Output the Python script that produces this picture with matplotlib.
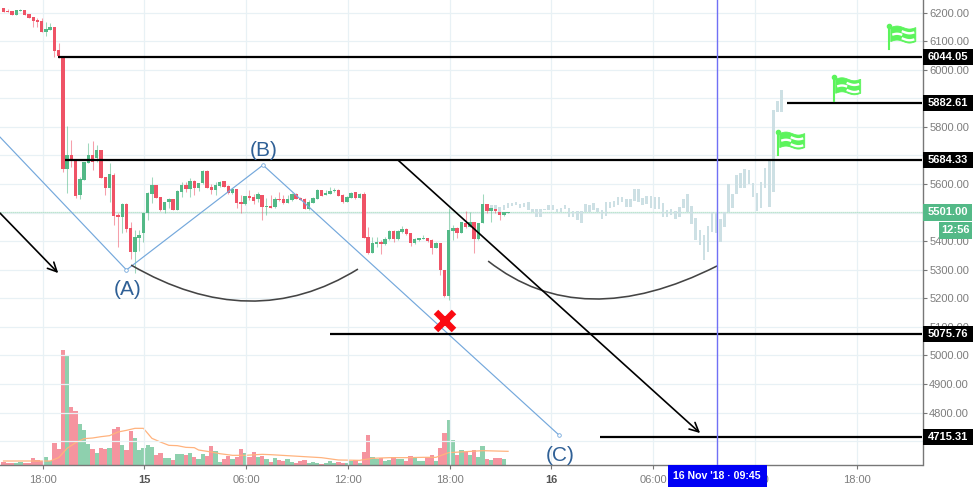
import numpy as np
import matplotlib
matplotlib.use("Agg")
import matplotlib.pyplot as plt
from matplotlib.patches import Rectangle, Polygon, PathPatch
from matplotlib.path import Path
from matplotlib.transforms import Affine2D

plt.rcParams['font.family'] = ['Liberation Sans', 'DejaVu Sans']

# ---------- data ----------
opens = [6215,6206,6205,6192,6205,6208,6195,6184,6174,6171,6133,6140,6149,6069,6048,5652,5701,5684,5561,5614,
         5674,5701,5690,5719,5624,5586,5631,5491,5485,5530,5445,5362,5412,5429,5497,5565,5596,5554,5509,5536,
         5547,5509,5573,5596,5583,5610,5587,5602,5646,5589,5579,5594,5610,5592,5567,5581,5538,5531,5558,5554,
         5546,5561,5518,5523,5518,5548,5546,5532,5544,5564,5550,5546,5513,5534,5547,5579,5561,5566,5575,5579,
         5561,5537,5552,5571,5551,5566,5413,5357,5390,5397,5390,5406,5436,5407,5431,5442,5427,5393,5404,5408,
         5410,5404,5376,5393,5299,5208,5435,5446,5428,5464,5450,5467,5406,5462,5530,5505,5511,5503,5491,5497]
closes = [6203,6203,6192,6209,6209,6192,6182,6170,6168,6132,6142,6149,6066,6048,5652,5701,5687,5559,5617,5676,
          5701,5676,5719,5622,5586,5635,5489,5484,5530,5443,5362,5414,5421,5497,5568,5596,5552,5509,5537,5547,
          5509,5575,5596,5581,5610,5587,5602,5646,5587,5580,5595,5607,5590,5569,5583,5534,5531,5558,5551,5541,
          5564,5518,5524,5516,5548,5544,5532,5546,5564,5547,5545,5513,5537,5550,5579,5559,5569,5575,5579,5559,
          5537,5554,5569,5550,5566,5411,5357,5394,5397,5390,5407,5436,5406,5436,5442,5425,5393,5407,5410,5411,
          5401,5376,5393,5299,5208,5439,5446,5428,5467,5449,5466,5407,5462,5530,5504,5515,5504,5491,5501,5501]
highs = [6215,6213,6205,6209,6211,6208,6195,6184,6180,6180,6166,6162,6150,6094,6048,5803,5754,5686,5625,5678,
         5745,5750,5736,5719,5625,5672,5637,5497,5532,5532,5468,5439,5439,5497,5573,5625,5596,5555,5538,5550,
         5547,5579,5608,5608,5622,5614,5604,5649,5649,5600,5608,5609,5610,5596,5585,5583,5561,5559,5579,5565,
         5573,5561,5550,5561,5555,5573,5561,5561,5567,5567,5555,5550,5544,5553,5581,5579,5579,5590,5585,5581,
         5564,5558,5573,5573,5569,5572,5448,5413,5413,5404,5415,5439,5439,5439,5453,5445,5429,5410,5412,5421,
         5412,5406,5396,5393,5299,5515,5456,5448,5468,5506,5503,5468,5464,5565,5530,5520,5515,5505,5503,5501]
lows = [6203,6202,6192,6192,6204,6192,6182,6150,6150,6132,6119,6139,6045,6042,5643,5567,5660,5550,5546,5614,
        5672,5649,5678,5620,5561,5538,5456,5380,5429,5433,5336,5287,5366,5398,5474,5532,5550,5506,5497,5515,
        5509,5509,5555,5573,5553,5561,5576,5600,5585,5565,5561,5590,5588,5565,5565,5515,5497,5526,5544,5530,
        5538,5474,5491,5515,5515,5541,5530,5532,5541,5546,5544,5511,5509,5532,5546,5558,5561,5564,5573,5558,
        5534,5536,5550,5547,5550,5410,5355,5357,5380,5355,5387,5404,5398,5404,5427,5421,5383,5390,5401,5406,
        5398,5355,5375,5281,5205,5194,5404,5410,5427,5445,5448,5357,5404,5462,5499,5468,5499,5474,5488,5497]
# relative volume
volumes = [8,6,6,6,9,6,6,21,16,13,24,11,66,49,345,327,174,162,123,105,
           64,48,36,51,48,51,108,114,60,45,102,81,45,51,60,54,30,36,21,21,
           15,33,33,30,36,24,18,33,27,57,42,9,18,27,18,24,48,36,24,39,
           24,27,18,10,21,15,11,18,9,5,12,15,7,9,5,3,5,12,5,8,
           5,5,12,14,5,39,90,24,18,21,12,15,24,18,18,12,27,21,12,12,
           24,30,12,51,96,135,75,30,45,39,30,45,24,57,18,15,21,21,18,0]
ma_index = [0,7,11,13,15,17,19,21,23,25,27,29,31,33,35,37,39,41,43,45,46,49,51,54,57,61,63,67,71,75,79,84,87,91,95,99,102,105,109,113,119]
ma_values = [12,12,12,22,50,67,79,81,85,88,99,104,110,110,80,69,59,58,53,52,45,39,34,29,29,32,31,28,25,22,15,14,20,22,22,23,23,37,40,43,41]
ghost_tops = [5526,5526,5520,5526,5532,5532,5537,5530,5532,5536,5511,5511,5511,5512,5525,5525,5511,5517,5525,5515,
              5505,5505,5506,5529,5526,5532,5517,5509,5536,5536,5541,5555,5555,5546,5546,5581,5581,5552,5559,5559,
              5553,5553,5532,5509,5511,5506,5518,5546,5564,5524,5480,5439,5421,5454,5503,5503,5476,5503,5600,5565,
              5631,5639,5651,5649,5602,5567,5608,5655,5684,5859,5891,5929]
ghost_bottoms = [5509,5511,5503,5509,5515,5524,5526,5517,5519,5509,5503,5485,5485,5510,5509,5509,5501,5503,5511,5485,
                 5485,5474,5462,5503,5503,5509,5501,5476,5489,5515,5520,5526,5538,5520,5520,5541,5538,5526,5529,5515,
                 5512,5512,5485,5485,5491,5476,5483,5515,5503,5459,5404,5386,5334,5363,5433,5429,5396,5448,5503,5517,
                 5565,5585,5585,5600,5553,5506,5515,5585,5520,5573,5851,5851]
y_ticks = list(range(6200, 4600, -100))
y_ticks_hidden = [5900, 5700, 5500]   # fully covered by the price labels
x_tick_labels = ["18:00", "15", "06:00", "12:00", "18:00", "16", "06:00", "12:00", "18:00"]
level_prices = [6044.05, 5882.61, 5684.33, 5075.76, 4715.31]
last_price = 5501.00

# ---------- layout ----------
W, H = 973, 490
fig = plt.figure(figsize=(W/100, H/100), dpi=100, facecolor="white")
ax = fig.add_axes([0, 25/H, 922.5/W, 465/H])
ax2 = ax.twinx()
ax.set_zorder(2); ax2.set_zorder(1)
ax.patch.set_visible(False)
ax2.set_ylim(0, 1395)
ax2.axis("off")
ax.set_xlim(-0.83, 216.75)
ax.set_ylim(4616.25, 6243.75)

RED, GREEN = "#ef5366", "#53b987"
GRID = "#e8f1f5"
x = np.arange(len(opens))
x_ticks = 9.2 + 24*np.arange(len(x_tick_labels))

ax.set_xticks(x_ticks)
ax.set_xticklabels(x_tick_labels, color="#7d7d7d", fontsize=8.0)
for lab, t in zip(ax.get_xticklabels(), x_tick_labels):
    if t in ("15", "16"):
        lab.set_fontweight("bold"); lab.set_color("#555555")
ax.set_yticks(y_ticks)
ax.set_yticklabels(["" if v in y_ticks_hidden else f"{v:.2f}" for v in y_ticks], color="#7d7d7d", fontsize=8.0)
ax.yaxis.tick_right()
ax.tick_params(axis="x", length=3, width=0.8, color="#777777", pad=4.2)
ax.tick_params(axis="y", length=3, width=0.8, color="#777777", pad=1.8)
ax.grid(True, color=GRID, lw=0.9, zorder=0)
ax.set_axisbelow(True)
for s in ("top", "left"):
    ax.spines[s].set_visible(False)
for s in ("right", "bottom"):
    ax.spines[s].set_color("#777777"); ax.spines[s].set_linewidth(1.0)

# volume
vcols = ["#8ed0ae" if c >= o else "#f5949f" for o, c in zip(opens, closes)]
ax2.bar(x, volumes, width=1.0, color=vcols, zorder=2)
ax2.plot(ma_index, ma_values, color="#ffb37e", lw=0.9, zorder=3)

# last price line
ax.axhline(last_price, color="#a9dcc3", lw=0.9, ls=(0, (1, 0.6)), zorder=1.5)

# candles
ccols = [GREEN if c >= o else RED for o, c in zip(opens, closes)]
ax.vlines(x, lows, highs, colors=ccols, lw=0.75, alpha=0.55, zorder=3)
ax.bar(x, np.abs(np.array(closes)-np.array(opens)), bottom=np.minimum(opens, closes),
       width=0.8, color=ccols, zorder=3.2)

# ghost bars pattern (scaled copy)
gx = 115.1 + 0.9633*np.arange(len(ghost_tops))
ax.bar(gx, np.array(ghost_tops)-np.array(ghost_bottoms), bottom=ghost_bottoms,
       width=0.6, color="#cde0e4", zorder=3.1)

# ABC line
abc_x = [-0.83, 29, 61.2, 131.1]
abc_y = [5764, 5299, 5666, 4720]
ax.plot(abc_x, abc_y, color="#74a8dc", lw=0.85, zorder=4)
ax.plot(abc_x[1:], abc_y[1:], "o", ms=2.6, mfc="white", mec="#74a8dc", mew=0.6, zorder=4)
for t, xx, yy in [("(A)", 29.2, 5232), ("(B)", 61.3, 5718), ("(C)", 131.3, 4651)]:
    ax.text(xx, yy, t, color="#2f6096", fontsize=15, ha="center", va="center", zorder=6)

# level lines
level_start = [12.9, 184.9, 14.5, 77, 140.7]
for p, s in zip(level_prices, level_start):
    ax.plot([s, 216.75], [p, p], color="black", lw=1.6, zorder=5, solid_capstyle="butt")

# arrows
for (x0, y0, x1, y1) in [(-0.83, 5498, 12.9, 5288), (93, 5684, 164.3, 4728)]:
    ax.annotate("", xy=(x1, y1), xytext=(x0, y0), zorder=5,
                arrowprops=dict(arrowstyle="->,head_length=0.65,head_width=0.32", color="black", lw=1.2,
                                shrinkA=0, shrinkB=0))

# arcs
for st, ct, en in [((30.1, 5316), (58.5, 5071), (83.6, 5302)),
                   ((114.3, 5330), (136.3, 5073), (168.3, 5313))]:
    ax.add_patch(PathPatch(Path([st, ct, en], [Path.MOVETO, Path.CURVE3, Path.CURVE3]),
                           fc="none", ec="#444444", lw=1.15, zorder=4.5))

# red cross
ax.plot([104.1], [5120], marker="x", ms=12.5, mew=4.6, color="#fb0a12", zorder=6, ls="none")

# crosshair
ax.axvline(168.2, color="#7070f5", lw=1.0, zorder=5)

# ---------- flags ----------
def flag(ix, price):
    px, py = ax.transData.transform((ix, price))
    tr = Affine2D().translate(px, py)
    col = "#5cf45c"
    fx = np.linspace(2, 27, 30)
    wave = 1.5*np.sin((fx-2)/25*2*np.pi)
    top = 21.5 + wave
    bot = 7.5 + wave
    poly = np.column_stack([np.r_[fx, fx[::-1]], np.r_[top, bot[::-1]]])
    fig.add_artist(Polygon(poly, closed=True, fc=col, ec=col, lw=0.6, transform=tr, zorder=8))
    for x0, x1, h in [(14, 25, 17.3), (4, 13, 13.8), (14, 25, 10.3)]:
        m = (fx >= x0) & (fx <= x1)
        fig.add_artist(plt.Line2D(fx[m], h+wave[m], color="white", lw=1.7, transform=tr, zorder=9))
    fig.add_artist(plt.Line2D([0, 0], [0, 23.5], color=col, lw=1.5, transform=tr, zorder=9))
    fig.add_artist(plt.Line2D([0], [23.5], marker="o", ms=3, color=col, transform=tr, zorder=9))

flag(182.6, 5701)
flag(195.8, 5891)
flag(208.8, 6072)

# ---------- price and date labels ----------
def rect(x0, y0, x1, y1, color):
    fig.add_artist(Rectangle((x0/W, 1-y1/H), (x1-x0)/W, (y1-y0)/H, fc=color, ec="none",
                             transform=fig.transFigure, zorder=10))

for p in level_prices:
    yc = H - ax.transData.transform((0, p))[1]
    rect(923, yc-8, 973, yc+8, "black")
    fig.text(948, H-yc, f"{p:.2f}", color="white", fontsize=8.0, fontweight="bold", ha="center", va="center",
             transform=None, zorder=11)

yc = H - ax.transData.transform((0, last_price))[1]
rect(923, yc-8.5, 972, yc+8.5, GREEN)
fig.text(947.5, H-yc, f"{last_price:.2f}", color="white", fontsize=8.0, fontweight="bold", ha="center",
         va="center", transform=None, zorder=11)
rect(939, yc+9.5, 972, yc+26.5, GREEN)
fig.text(955.5, H-(yc+18), "12:56", color="white", fontsize=8.0, fontweight="bold", ha="center", va="center",
         transform=None, zorder=11)

rect(667.5, 465, 767, 487, "#0000f5")
fig.text(717.2, H-476, "16 Nov '18 · 09:45", color="white", fontsize=7.6, fontweight="bold", ha="center",
         va="center", transform=None, zorder=11)

fig.savefig("out.png", dpi=100)
